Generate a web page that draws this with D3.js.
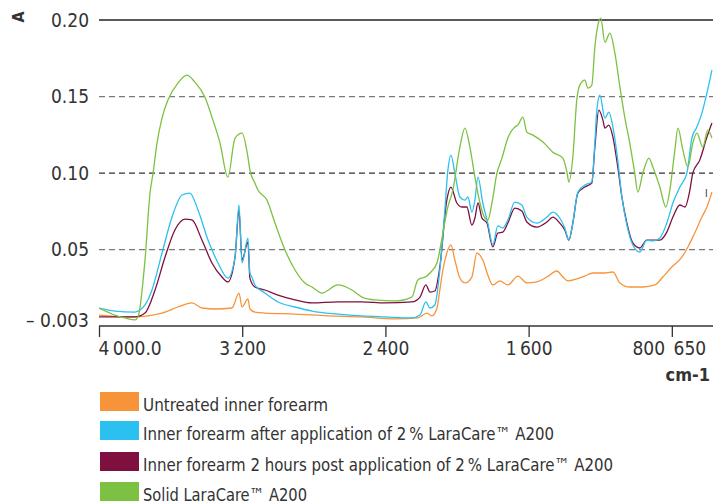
<!DOCTYPE html>
<html>
<head>
<meta charset="utf-8">
<script src="https://cdn.jsdelivr.net/npm/d3@7/dist/d3.min.js"></script>
<style>
  html, body { margin: 0; padding: 0; background: #fff; }
  svg text { font-family: "Liberation Sans Narrow", "DejaVu Sans Condensed", "Roboto", sans-serif; fill: #333; }
</style>
</head>
<body>
<svg id="chart" width="713" height="503"></svg>
<script>
// ---- Data ----
const seriesNames = [
  "Untreated inner forearm",
  "Inner forearm after application of 2\u2009% LaraCare\u2122 A200",
  "Inner forearm 2 hours post application of 2\u2009% LaraCare\u2122 A200",
  "Solid LaraCare\u2122 A200"
];
const seriesColors = ["#f7943a", "#2bc0ef", "#7e0f3f", "#7cc142"];

const untreatedWn = [4000,3827,3648,3559,3481,3425,3352,3257,3218,3201,3168,3157,3129,3073,2905,2721,2531,2347,2219,2168,2140,2112,2096,2079,2057,2034,2012,1984,1956,1917,1889,1856,1828,1800,1761,1716,1660,1610,1554,1498,1442,1409,1381,1331,1286,1241,1185,1129,1090,1035,962,895,850,800,744,710,672,632,604,576];
const untreatedA  = [0.0046,0.0033,0.0060,0.0102,0.0130,0.0095,0.0088,0.0095,0.0199,0.0102,0.0158,0.0088,0.0067,0.0060,0.0053,0.0040,0.0033,0.0019,0.0026,0.0060,0.0040,0.0095,0.0220,0.0359,0.0477,0.0531,0.0428,0.0303,0.0269,0.0310,0.0477,0.0428,0.0324,0.0255,0.0283,0.0255,0.0317,0.0269,0.0276,0.0310,0.0352,0.0310,0.0283,0.0297,0.0317,0.0338,0.0338,0.0345,0.0269,0.0241,0.0241,0.0255,0.0310,0.0380,0.0449,0.0518,0.0609,0.0713,0.0779,0.0876];

const afterWn = [4000,3911,3799,3743,3704,3648,3592,3536,3492,3447,3391,3335,3280,3240,3218,3201,3168,3157,3146,3129,3073,3000,2905,2810,2665,2531,2403,2252,2207,2174,2151,2124,2096,2068,2051,2034,2012,1984,1956,1939,1917,1900,1883,1856,1828,1800,1772,1744,1716,1677,1638,1610,1554,1498,1465,1426,1398,1375,1353,1325,1286,1247,1230,1219,1202,1174,1152,1129,1102,1079,1051,1018,979,940,906,867,828,794,755,716,688,660,632,604,576];
const afterA  = [0.0095,0.0074,0.0067,0.0116,0.0220,0.0477,0.0713,0.0857,0.0870,0.0759,0.0563,0.0408,0.0303,0.0449,0.0792,0.0408,0.0576,0.0338,0.0310,0.0255,0.0199,0.0137,0.0102,0.0074,0.0053,0.0040,0.0033,0.0026,0.0046,0.0137,0.0095,0.0116,0.0359,0.0759,0.1020,0.1118,0.1000,0.0844,0.0824,0.0844,0.0746,0.0824,0.0974,0.0805,0.0674,0.0531,0.0655,0.0642,0.0694,0.0811,0.0792,0.0713,0.0674,0.0713,0.0746,0.0707,0.0642,0.0563,0.0674,0.0876,0.0922,0.0942,0.1196,0.1411,0.1509,0.1359,0.1398,0.1301,0.1085,0.0844,0.0661,0.0531,0.0484,0.0563,0.0557,0.0576,0.0674,0.0805,0.0909,0.1000,0.1229,0.1301,0.1392,0.1522,0.1672];

const postWn = [4000,3799,3743,3687,3631,3576,3520,3481,3425,3369,3313,3280,3240,3218,3201,3168,3157,3129,3073,3000,2905,2810,2665,2531,2403,2252,2207,2174,2151,2124,2096,2057,2034,2001,1973,1945,1917,1900,1883,1861,1833,1800,1772,1744,1716,1677,1638,1610,1554,1498,1465,1426,1398,1375,1353,1325,1286,1247,1230,1208,1185,1174,1152,1129,1102,1079,1051,1018,979,940,906,867,828,794,755,727,699,683,644,604,576];
const postA  = [0.0033,0.0033,0.0060,0.0220,0.0449,0.0629,0.0700,0.0694,0.0563,0.0408,0.0310,0.0276,0.0449,0.0759,0.0428,0.0550,0.0303,0.0241,0.0220,0.0185,0.0151,0.0130,0.0137,0.0137,0.0130,0.0137,0.0171,0.0255,0.0206,0.0213,0.0380,0.0824,0.0909,0.0805,0.0779,0.0779,0.0661,0.0707,0.0805,0.0707,0.0674,0.0518,0.0609,0.0615,0.0674,0.0772,0.0752,0.0681,0.0648,0.0681,0.0713,0.0674,0.0629,0.0563,0.0674,0.0870,0.0909,0.0935,0.1170,0.1411,0.1346,0.1294,0.1314,0.1235,0.1040,0.0844,0.0674,0.0544,0.0511,0.0563,0.0563,0.0563,0.0615,0.0713,0.0792,0.0779,0.0890,0.1000,0.1085,0.1235,0.1327];

const solidWn = [4000,3911,3855,3799,3782,3743,3715,3698,3676,3648,3615,3559,3509,3464,3408,3369,3324,3280,3240,3201,3168,3157,3129,3112,3062,3017,2961,2905,2850,2810,2755,2665,2587,2531,2459,2347,2252,2219,2168,2151,2112,2079,2051,2023,1984,1956,1928,1900,1872,1844,1828,1805,1777,1749,1716,1677,1660,1632,1610,1576,1520,1465,1409,1386,1375,1353,1331,1314,1286,1269,1247,1230,1213,1197,1174,1146,1118,1090,1063,1035,1007,990,962,928,906,867,833,811,783,766,738,710,683,660,627,599,576];
const solidA  = [0.0095,0.0046,0.0026,0.0012,0.0033,0.0428,0.0870,0.1000,0.1196,0.1359,0.1477,0.1588,0.1640,0.1594,0.1496,0.1366,0.1196,0.0974,0.1229,0.1261,0.1105,0.1020,0.0935,0.0890,0.0824,0.0674,0.0498,0.0359,0.0269,0.0241,0.0199,0.0255,0.0220,0.0171,0.0151,0.0144,0.0171,0.0290,0.0317,0.0338,0.0408,0.0609,0.0779,0.0890,0.1170,0.1294,0.1170,0.0974,0.0805,0.0707,0.0694,0.0805,0.1000,0.1098,0.1229,0.1301,0.1314,0.1366,0.1268,0.1248,0.1203,0.1137,0.1098,0.1007,0.0942,0.1105,0.1477,0.1575,0.1607,0.1555,0.1575,0.1823,0.1966,0.2012,0.1855,0.1914,0.1783,0.1562,0.1366,0.1196,0.1000,0.0876,0.1000,0.1098,0.1040,0.0909,0.0779,0.0890,0.1150,0.1294,0.1150,0.1040,0.1196,0.1261,0.1170,0.1281,0.1229];

const yTicks = [0.20, 0.15, 0.10, 0.05, -0.003];
const yTickLabels = ["0.20", "0.15", "0.10", "0.05", "\u2013 0.003"];
const xTicks = [4000, 3200, 2400, 1600, 800];
const xTickLabels = ["4\u2009000.0", "3\u2009200", "2\u2009400", "1\u2009600", "800\u2002650"];

// ---- Layout ----
const svg = d3.select("#chart");
const plotLeft = 99, plotRight = 713, plotTop = 20, plotBottom = 326;

const x = d3.scaleLinear().domain([4000, 570]).range([plotLeft, plotRight]);
const y = d3.scaleLinear().domain([-0.003, 0.05, 0.20]).range([plotBottom, 249.7, plotTop]);

// gridlines
const gridStyle = {
  0.20: { color: "#222", dash: null, w: 1.3 },
  0.15: { color: "#7a7a7a", dash: "6,4", w: 1.2 },
  0.10: { color: "#333", dash: "6,4", w: 1.2 },
  0.05: { color: "#7a7a7a", dash: "6,4", w: 1.2 }
};
[0.20, 0.15, 0.10, 0.05].forEach(v => {
  const s = gridStyle[v];
  svg.append("line")
    .attr("x1", plotLeft).attr("x2", plotRight)
    .attr("y1", y(v)).attr("y2", y(v))
    .attr("stroke", s.color).attr("stroke-width", s.w)
    .attr("stroke-dasharray", s.dash);
});

// y labels
const yAxis = d3.axisLeft(y).tickValues(yTicks)
  .tickFormat((d, i) => yTickLabels[i]).tickSize(0).tickPadding(10);
const gy = svg.append("g").attr("transform", `translate(${plotLeft},0)`).call(yAxis);
gy.select(".domain").remove();
gy.selectAll("text").style("font-size", "19px").attr("fill", "#333");
gy.selectAll(".tick").filter(d => d === -0.003).select("text").attr("dy", "0.05em");

svg.append("text")
  .attr("transform", "translate(24,17) rotate(-90)")
  .attr("text-anchor", "middle")
  .style("font-size", "16px").style("font-weight", "bold")
  .text("A");

// lines
svg.append("clipPath").attr("id", "plotclip")
  .append("rect").attr("x", plotLeft).attr("y", 0)
  .attr("width", plotRight - plotLeft).attr("height", plotBottom);

const series = [
  { wn: untreatedWn, a: untreatedA, color: seriesColors[0] },
  { wn: postWn, a: postA, color: seriesColors[2] },
  { wn: afterWn, a: afterA, color: seriesColors[1] },
  { wn: solidWn, a: solidA, color: seriesColors[3] }
];
const line = d3.line().x(d => x(d[0])).y(d => y(d[1])).curve(d3.curveMonotoneX);
const gl = svg.append("g").attr("clip-path", "url(#plotclip)");
series.forEach(s => {
  const pts = s.wn.map((w, i) => [w, s.a[i]]);
  gl.append("path").datum(pts)
    .attr("d", line)
    .attr("fill", "none")
    .attr("stroke", s.color)
    .attr("stroke-width", 1.3)
    .attr("stroke-linejoin", "round");
});

// x axis
const xAxis = d3.axisBottom(x).tickValues(xTicks)
  .tickFormat((d, i) => xTickLabels[i]).tickSizeInner(11).tickSizeOuter(0).tickPadding(5);
const gx = svg.append("g").attr("transform", `translate(0,${plotBottom})`).call(xAxis);
gx.select(".domain").attr("stroke", "#333").attr("stroke-width", 1.5)
  .attr("d", `M${plotLeft},0H${plotRight}`);
gx.selectAll(".tick line").attr("stroke", "#333").attr("stroke-width", 1.3);
gx.selectAll("text").style("font-size", "19px").attr("fill", "#333");
gx.selectAll(".tick").filter(d => d === 4000).select("text").attr("text-anchor", "start").attr("dx", "-1");
gx.selectAll(".tick").filter(d => d === 800).select("text").attr("dx", "-3");

svg.append("text")
  .attr("x", 710).attr("y", 381)
  .attr("text-anchor", "end")
  .style("font-size", "18px").style("font-weight", "bold")
  .text("cm-1");

// small marker near right edge
svg.append("text")
  .attr("x", 705).attr("y", 197)
  .style("font-size", "10px").attr("fill", "#555")
  .text("I");

// legend
const legendTops = [392, 421, 452, 482];
const legendWidths = [185, 411, 470, 164];
const lg = svg.append("g");
seriesNames.forEach((name, i) => {
  const top = legendTops[i];
  lg.append("rect").attr("x", 100).attr("y", top).attr("width", 39).attr("height", 19)
    .attr("fill", seriesColors[i]);
  const t = lg.append("text").attr("x", 143).attr("y", top + 18.5)
    .style("font-size", "18px").attr("fill", "#333")
    .text(name);
  const w = t.node().getComputedTextLength();
  if (w > legendWidths[i]) {
    t.attr("textLength", legendWidths[i]).attr("lengthAdjust", "spacingAndGlyphs");
  }
});
</script>
</body>
</html>
